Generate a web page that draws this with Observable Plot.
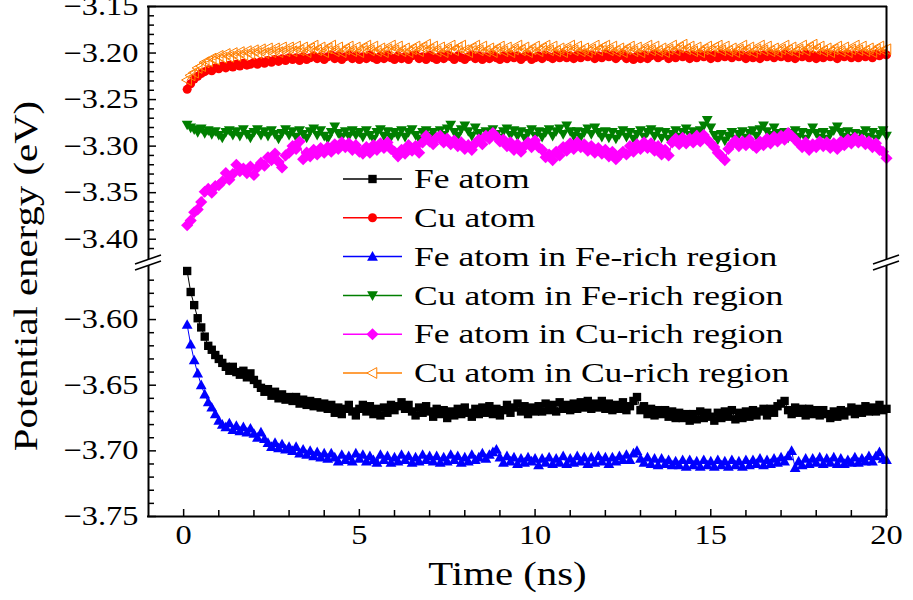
<!DOCTYPE html>
<html><head><meta charset="utf-8">
<script src="https://cdn.jsdelivr.net/npm/d3@7"></script>
<script src="https://cdn.jsdelivr.net/npm/@observablehq/plot@0.6"></script>
<style>
body{margin:0;background:#fff}
#chart{position:relative;width:913px;height:600px}
#chart svg{display:block;overflow:visible}
#overlay{position:absolute;left:0;top:0;pointer-events:none}
</style>
</head><body><div id="chart"></div>
<script>
// ---------- data (t = 0.1 ... 20.0 ns) ----------
const seriesNames = ["Fe atom","Cu atom","Fe atom in Fe-rich region","Cu atom in Fe-rich region","Fe atom in Cu-rich region","Cu atom in Cu-rich region"];

const feAtom = [
-3.563,-3.579,-3.589,-3.599,-3.606,-3.613,-3.620,-3.623,-3.627,-3.630,
-3.633,-3.636,-3.639,-3.636,-3.640,-3.642,-3.639,-3.644,-3.641,-3.646,
-3.649,-3.652,-3.655,-3.653,-3.658,-3.655,-3.660,-3.657,-3.661,-3.659,
-3.662,-3.659,-3.664,-3.661,-3.665,-3.662,-3.666,-3.663,-3.667,-3.664,
-3.668,-3.665,-3.671,-3.667,-3.672,-3.668,-3.665,-3.670,-3.673,-3.668,
-3.665,-3.670,-3.666,-3.672,-3.668,-3.673,-3.667,-3.671,-3.665,-3.669,
-3.666,-3.663,-3.668,-3.665,-3.670,-3.673,-3.667,-3.671,-3.666,-3.670,
-3.674,-3.668,-3.672,-3.669,-3.675,-3.670,-3.673,-3.668,-3.672,-3.667,
-3.671,-3.674,-3.668,-3.672,-3.667,-3.671,-3.666,-3.672,-3.668,-3.673,
-3.669,-3.665,-3.671,-3.667,-3.664,-3.670,-3.666,-3.672,-3.667,-3.670,
-3.666,-3.670,-3.664,-3.669,-3.665,-3.670,-3.663,-3.668,-3.665,-3.669,
-3.664,-3.668,-3.663,-3.667,-3.662,-3.668,-3.664,-3.667,-3.662,-3.668,
-3.664,-3.669,-3.665,-3.668,-3.663,-3.669,-3.666,-3.662,-3.659,-3.669,
-3.666,-3.672,-3.668,-3.673,-3.669,-3.672,-3.669,-3.674,-3.670,-3.675,
-3.671,-3.675,-3.672,-3.677,-3.672,-3.676,-3.670,-3.675,-3.671,-3.674,
-3.677,-3.671,-3.675,-3.670,-3.674,-3.669,-3.676,-3.671,-3.675,-3.670,
-3.674,-3.669,-3.673,-3.670,-3.668,-3.673,-3.668,-3.671,-3.666,-3.664,
-3.662,-3.669,-3.672,-3.667,-3.671,-3.668,-3.673,-3.668,-3.672,-3.669,
-3.673,-3.669,-3.672,-3.675,-3.670,-3.674,-3.669,-3.673,-3.670,-3.667,
-3.672,-3.668,-3.671,-3.666,-3.670,-3.667,-3.670,-3.665,-3.669,-3.668];

const cuAtom = [
-3.239,-3.233,-3.228,-3.225,-3.222,-3.220,-3.218,-3.219,-3.216,-3.217,
-3.214,-3.216,-3.213,-3.215,-3.212,-3.214,-3.211,-3.213,-3.212,-3.210,
-3.212,-3.209,-3.211,-3.208,-3.210,-3.207,-3.209,-3.206,-3.208,-3.205,
-3.207,-3.205,-3.208,-3.204,-3.207,-3.205,-3.203,-3.206,-3.204,-3.207,
-3.204,-3.202,-3.206,-3.203,-3.207,-3.204,-3.202,-3.206,-3.203,-3.207,
-3.204,-3.206,-3.202,-3.205,-3.207,-3.203,-3.206,-3.202,-3.205,-3.207,
-3.203,-3.206,-3.204,-3.207,-3.203,-3.202,-3.206,-3.204,-3.207,-3.202,
-3.205,-3.207,-3.203,-3.206,-3.202,-3.204,-3.207,-3.203,-3.205,-3.207,
-3.204,-3.202,-3.206,-3.203,-3.207,-3.204,-3.206,-3.202,-3.205,-3.207,
-3.203,-3.206,-3.202,-3.205,-3.203,-3.207,-3.204,-3.202,-3.207,-3.205,
-3.203,-3.206,-3.202,-3.204,-3.206,-3.202,-3.205,-3.201,-3.205,-3.203,
-3.206,-3.202,-3.205,-3.201,-3.204,-3.202,-3.206,-3.203,-3.205,-3.201,
-3.204,-3.202,-3.206,-3.203,-3.201,-3.206,-3.204,-3.207,-3.203,-3.206,
-3.202,-3.206,-3.203,-3.201,-3.205,-3.203,-3.201,-3.206,-3.202,-3.205,
-3.201,-3.204,-3.202,-3.206,-3.202,-3.205,-3.201,-3.204,-3.202,-3.206,
-3.202,-3.205,-3.201,-3.204,-3.202,-3.205,-3.201,-3.204,-3.202,-3.206,
-3.202,-3.205,-3.202,-3.206,-3.202,-3.204,-3.201,-3.205,-3.202,-3.204,
-3.201,-3.205,-3.202,-3.206,-3.202,-3.204,-3.201,-3.205,-3.202,-3.206,
-3.202,-3.205,-3.201,-3.204,-3.202,-3.206,-3.202,-3.204,-3.201,-3.205,
-3.202,-3.205,-3.201,-3.204,-3.202,-3.205,-3.201,-3.203,-3.201,-3.202];

const feInFeRich = [
-3.604,-3.619,-3.631,-3.641,-3.650,-3.657,-3.663,-3.667,-3.672,-3.677,
-3.680,-3.682,-3.679,-3.684,-3.681,-3.685,-3.682,-3.686,-3.683,-3.687,
-3.690,-3.686,-3.691,-3.694,-3.697,-3.694,-3.698,-3.695,-3.699,-3.697,
-3.700,-3.697,-3.702,-3.699,-3.703,-3.700,-3.704,-3.701,-3.705,-3.702,
-3.706,-3.702,-3.705,-3.708,-3.703,-3.707,-3.704,-3.708,-3.702,-3.706,
-3.703,-3.708,-3.704,-3.707,-3.709,-3.703,-3.707,-3.704,-3.709,-3.705,
-3.708,-3.703,-3.707,-3.704,-3.709,-3.705,-3.708,-3.703,-3.707,-3.704,
-3.708,-3.704,-3.709,-3.705,-3.708,-3.703,-3.707,-3.704,-3.709,-3.705,
-3.708,-3.703,-3.707,-3.705,-3.702,-3.706,-3.703,-3.701,-3.699,-3.705,
-3.709,-3.704,-3.708,-3.705,-3.710,-3.706,-3.709,-3.705,-3.708,-3.706,
-3.711,-3.706,-3.709,-3.705,-3.710,-3.706,-3.709,-3.704,-3.710,-3.706,
-3.709,-3.704,-3.708,-3.705,-3.710,-3.705,-3.709,-3.704,-3.708,-3.705,
-3.710,-3.705,-3.708,-3.704,-3.707,-3.703,-3.707,-3.702,-3.700,-3.706,
-3.709,-3.705,-3.710,-3.706,-3.711,-3.706,-3.710,-3.707,-3.711,-3.708,
-3.711,-3.707,-3.712,-3.707,-3.711,-3.708,-3.712,-3.707,-3.711,-3.708,
-3.712,-3.707,-3.711,-3.708,-3.712,-3.707,-3.711,-3.708,-3.712,-3.707,
-3.711,-3.707,-3.710,-3.706,-3.711,-3.707,-3.710,-3.706,-3.709,-3.705,
-3.708,-3.704,-3.700,-3.713,-3.708,-3.711,-3.706,-3.710,-3.706,-3.709,
-3.705,-3.710,-3.706,-3.709,-3.705,-3.710,-3.706,-3.710,-3.707,-3.709,
-3.705,-3.709,-3.706,-3.708,-3.704,-3.708,-3.704,-3.701,-3.706,-3.707];

const cuInFeRich = [
-3.277,-3.280,-3.282,-3.285,-3.281,-3.286,-3.283,-3.287,-3.284,-3.288,
-3.291,-3.285,-3.283,-3.288,-3.284,-3.289,-3.282,-3.287,-3.291,-3.285,
-3.282,-3.288,-3.284,-3.289,-3.283,-3.287,-3.292,-3.286,-3.282,-3.288,
-3.284,-3.290,-3.283,-3.287,-3.291,-3.284,-3.281,-3.288,-3.283,-3.289,
-3.292,-3.285,-3.279,-3.286,-3.290,-3.284,-3.289,-3.283,-3.288,-3.285,
-3.290,-3.283,-3.288,-3.292,-3.285,-3.282,-3.289,-3.284,-3.290,-3.285,
-3.289,-3.283,-3.290,-3.285,-3.282,-3.288,-3.292,-3.285,-3.283,-3.289,
-3.285,-3.290,-3.283,-3.288,-3.281,-3.277,-3.285,-3.289,-3.282,-3.278,
-3.284,-3.289,-3.280,-3.286,-3.291,-3.284,-3.289,-3.282,-3.287,-3.291,
-3.284,-3.281,-3.288,-3.283,-3.289,-3.284,-3.291,-3.286,-3.282,-3.289,
-3.284,-3.290,-3.285,-3.282,-3.289,-3.284,-3.281,-3.287,-3.278,-3.284,
-3.289,-3.284,-3.290,-3.285,-3.281,-3.287,-3.280,-3.285,-3.290,-3.284,
-3.291,-3.285,-3.292,-3.287,-3.283,-3.290,-3.285,-3.292,-3.287,-3.283,
-3.290,-3.285,-3.282,-3.289,-3.284,-3.291,-3.285,-3.292,-3.287,-3.283,
-3.290,-3.285,-3.281,-3.288,-3.284,-3.290,-3.283,-3.278,-3.272,-3.280,
-3.288,-3.293,-3.287,-3.294,-3.289,-3.285,-3.292,-3.287,-3.284,-3.291,
-3.286,-3.283,-3.289,-3.282,-3.278,-3.284,-3.288,-3.280,-3.286,-3.291,
-3.285,-3.291,-3.286,-3.283,-3.290,-3.285,-3.292,-3.286,-3.280,-3.286,
-3.291,-3.285,-3.292,-3.287,-3.283,-3.279,-3.285,-3.290,-3.284,-3.291,
-3.286,-3.292,-3.287,-3.283,-3.290,-3.285,-3.292,-3.287,-3.283,-3.289];

const feInCuRich = [
-3.385,-3.380,-3.371,-3.368,-3.360,-3.349,-3.346,-3.350,-3.343,-3.342,
-3.338,-3.329,-3.336,-3.330,-3.320,-3.327,-3.324,-3.329,-3.322,-3.331,
-3.323,-3.318,-3.321,-3.312,-3.315,-3.308,-3.317,-3.323,-3.310,-3.307,
-3.300,-3.303,-3.295,-3.314,-3.307,-3.311,-3.304,-3.309,-3.302,-3.307,
-3.301,-3.306,-3.298,-3.303,-3.296,-3.301,-3.297,-3.304,-3.299,-3.306,
-3.308,-3.301,-3.307,-3.299,-3.304,-3.297,-3.302,-3.296,-3.303,-3.306,
-3.311,-3.304,-3.308,-3.299,-3.305,-3.300,-3.307,-3.296,-3.289,-3.295,
-3.298,-3.291,-3.289,-3.296,-3.292,-3.298,-3.294,-3.300,-3.296,-3.303,
-3.299,-3.304,-3.297,-3.293,-3.298,-3.289,-3.292,-3.286,-3.290,-3.295,
-3.293,-3.300,-3.296,-3.304,-3.298,-3.306,-3.300,-3.296,-3.301,-3.294,
-3.301,-3.304,-3.312,-3.309,-3.315,-3.306,-3.310,-3.301,-3.305,-3.297,
-3.303,-3.296,-3.301,-3.298,-3.305,-3.300,-3.307,-3.302,-3.308,-3.304,
-3.311,-3.306,-3.314,-3.310,-3.306,-3.309,-3.300,-3.306,-3.298,-3.303,
-3.296,-3.302,-3.297,-3.305,-3.300,-3.309,-3.304,-3.310,-3.296,-3.292,
-3.298,-3.291,-3.297,-3.292,-3.296,-3.289,-3.295,-3.288,-3.293,-3.297,
-3.301,-3.307,-3.311,-3.315,-3.303,-3.298,-3.294,-3.300,-3.295,-3.299,
-3.293,-3.299,-3.302,-3.295,-3.299,-3.292,-3.297,-3.290,-3.295,-3.289,
-3.293,-3.286,-3.289,-3.293,-3.297,-3.301,-3.296,-3.304,-3.298,-3.301,
-3.295,-3.300,-3.296,-3.302,-3.297,-3.303,-3.295,-3.299,-3.293,-3.297,
-3.291,-3.296,-3.293,-3.298,-3.295,-3.301,-3.297,-3.304,-3.306,-3.313];

const cuInCuRich = [
-3.229,-3.224,-3.221,-3.216,-3.214,-3.210,-3.209,-3.206,-3.207,-3.203,
-3.205,-3.201,-3.204,-3.200,-3.203,-3.199,-3.202,-3.198,-3.201,-3.197,
-3.200,-3.196,-3.200,-3.195,-3.199,-3.195,-3.199,-3.194,-3.198,-3.194,
-3.198,-3.193,-3.197,-3.194,-3.199,-3.195,-3.192,-3.197,-3.194,-3.199,
-3.195,-3.192,-3.198,-3.194,-3.199,-3.196,-3.193,-3.198,-3.194,-3.199,
-3.195,-3.192,-3.197,-3.193,-3.198,-3.195,-3.199,-3.196,-3.192,-3.197,
-3.193,-3.198,-3.195,-3.199,-3.196,-3.193,-3.198,-3.194,-3.191,-3.196,
-3.193,-3.198,-3.194,-3.199,-3.196,-3.192,-3.197,-3.194,-3.192,-3.197,
-3.199,-3.195,-3.192,-3.197,-3.193,-3.198,-3.195,-3.199,-3.196,-3.193,
-3.198,-3.194,-3.199,-3.196,-3.192,-3.197,-3.194,-3.199,-3.196,-3.193,
-3.198,-3.195,-3.192,-3.197,-3.193,-3.198,-3.195,-3.199,-3.196,-3.192,
-3.197,-3.193,-3.198,-3.195,-3.199,-3.196,-3.192,-3.197,-3.194,-3.192,
-3.197,-3.193,-3.198,-3.195,-3.199,-3.196,-3.193,-3.198,-3.194,-3.199,
-3.196,-3.192,-3.197,-3.193,-3.198,-3.195,-3.199,-3.196,-3.192,-3.197,
-3.194,-3.191,-3.196,-3.193,-3.198,-3.194,-3.199,-3.196,-3.193,-3.198,
-3.194,-3.192,-3.197,-3.193,-3.198,-3.195,-3.199,-3.196,-3.192,-3.197,
-3.194,-3.199,-3.196,-3.192,-3.197,-3.193,-3.198,-3.195,-3.199,-3.196,
-3.192,-3.197,-3.194,-3.199,-3.196,-3.192,-3.197,-3.194,-3.191,-3.196,
-3.193,-3.198,-3.195,-3.199,-3.196,-3.193,-3.198,-3.194,-3.199,-3.196,
-3.192,-3.197,-3.193,-3.198,-3.195,-3.199,-3.196,-3.193,-3.197,-3.196];

// sampling times (ns): one sample every 0.1 ns
const timeNs = feAtom.map((_, i) => (i + 1) / 10);

// axis tick labels
const xTickLabels = [0, 5, 10, 15, 20];
const yTickLabelsUpper = [-3.40, -3.35, -3.30, -3.25, -3.20, -3.15];
const yTickLabelsLower = [-3.75, -3.70, -3.65, -3.60];
// broken y axis: upper panel spans [-3.4261, -3.15], lower panel [-3.75, -3.5573]
const yDomainUpper = [-3.4261, -3.15];
const yDomainLower = [-3.75, -3.5573];
const xDomain = [-1, 20];

// ---------- styling ----------
const series = [feAtom, cuAtom, feInFeRich, cuInFeRich, feInCuRich, cuInCuRich];
const inUpper = [false, true, false, true, true, true];
const colors = ["#000000", "#ff0000", "#0000ff", "#007f00", "#ff00ff", "#ff7f00"];
const openMarker = [false, false, false, false, false, true];
const R = 4.5;
const poly = pts => ({draw(ctx, size) {
  const r = Math.sqrt(size / Math.PI);
  pts.forEach(([a, b], i) => i ? ctx.lineTo(a * r, b * r) : ctx.moveTo(a * r, b * r));
  ctx.closePath();
}});
const symbols = [
  poly([[-0.93,-0.93],[0.93,-0.93],[0.93,0.93],[-0.93,0.93]]),
  d3.symbolCircle,
  poly([[0,-1.25],[1.2,0.9],[-1.2,0.9]]),
  poly([[0,1.25],[1.2,-0.9],[-1.2,-0.9]]),
  poly([[0,-1.35],[1.35,0],[0,1.35],[-1.35,0]]),
  poly([[-1.25,0],[0.95,-1.2],[0.95,1.2]])
];

const W = 913, H = 600, mL = 148, mR = 27;
const hTop = 263, mTopTop = 6;          // upper panel: page y 0..263
const hLow = H - hTop, mBotLow = 84;    // lower panel: page y 263..600
const frameW = W - mL - mR;
const FONT = "'Liberation Serif', 'Times New Roman', serif";
const style = {fontFamily: FONT, fontSize: "27px", color: "black", background: "transparent", overflow: "visible"};
const fmt = d => "\u2212" + Math.abs(d).toFixed(2);
const minorOf = (lo, hi, majors) => d3.range(Math.round(lo * 100), Math.round(hi * 100) + 1)
  .map(d => d / 100).filter(d => !majors.some(t => Math.abs(t - d) < 1e-6));
const yMinorUpper = minorOf(-3.41, -3.16, yTickLabelsUpper);
const yMinorLower = minorOf(-3.74, -3.57, yTickLabelsLower);
const xMinor = d3.range(0, 21).filter(d => d % 5 !== 0);

function seriesMarks(upper) {
  const out = [];
  series.forEach((vals, k) => {
    if (inUpper[k] !== upper) return;
    const rows = vals.map((v, i) => ({t: timeNs[i], v}));
    out.push(Plot.line(rows, {x: "t", y: "v", stroke: colors[k], strokeWidth: 1}));
    out.push(Plot.dot(rows, {x: "t", y: "v", r: R, symbol: symbols[k],
      fill: openMarker[k] ? "none" : colors[k], stroke: openMarker[k] ? colors[k] : "none", strokeWidth: 1}));
  });
  return out;
}

const upperPlot = Plot.plot({
  width: W, height: hTop, marginLeft: mL, marginRight: mR, marginTop: mTopTop, marginBottom: 0, style,
  x: {domain: xDomain, axis: null},
  y: {domain: yDomainUpper},
  marks: [
    ...seriesMarks(true),
    Plot.tickY(yTickLabelsUpper, {y: d => d, insetRight: frameW - 8, strokeWidth: 1.5}),
    Plot.tickY(yMinorUpper, {y: d => d, insetRight: frameW - 6, strokeWidth: 1.5}),
    Plot.axisY(yTickLabelsUpper, {tickSize: 0, tickPadding: 10, tickFormat: fmt, label: null}),
    Plot.ruleX(xDomain, {strokeWidth: 2}),
    Plot.ruleY([yDomainUpper[1]], {strokeWidth: 2, strokeLinecap: "square"})
  ]
});

const frameHLow = hLow - mBotLow;
const lowerPlot = Plot.plot({
  width: W, height: hLow, marginLeft: mL, marginRight: mR, marginTop: 0, marginBottom: mBotLow, style,
  x: {domain: xDomain},
  y: {domain: yDomainLower},
  marks: [
    ...seriesMarks(false),
    Plot.tickY(yTickLabelsLower, {y: d => d, insetRight: frameW - 8, strokeWidth: 1.5}),
    Plot.tickY(yMinorLower, {y: d => d, insetRight: frameW - 6, strokeWidth: 1.5}),
    Plot.tickX(xTickLabels, {x: d => d, insetTop: frameHLow - 7, strokeWidth: 1.5}),
    Plot.tickX(xMinor, {x: d => d, insetTop: frameHLow - 6, strokeWidth: 1.5}),
    Plot.axisY(yTickLabelsLower, {tickSize: 0, tickPadding: 10, tickFormat: fmt, label: null}),
    Plot.axisX(xTickLabels, {tickSize: 0, tickPadding: 8, label: null}),
    Plot.ruleX(xDomain, {strokeWidth: 2}),
    Plot.ruleY([yDomainLower[0]], {strokeWidth: 2, strokeLinecap: "square"}),
    Plot.text(["Time (ns)"], {text: d => d, frameAnchor: "bottom", textAnchor: "middle", lineAnchor: "middle", dy: 58, dx: -10, fontSize: 34}),
    Plot.text(["Potential energy (eV)"], {text: d => d, frameAnchor: "left", textAnchor: "middle", lineAnchor: "middle", rotate: -90, dx: -122, dy: -114, fontSize: 34})
  ]
});

const chart = document.getElementById("chart");
chart.append(upperPlot, lowerPlot);

// overlay: axis-break marks and legend
const overlay = d3.select(chart).append("svg").attr("id", "overlay").attr("width", W).attr("height", H);
const yb = upperPlot.scale("y").apply(yDomainUpper[0]);
const xr = upperPlot.scale("x").range;
for (const cx of xr) {
  overlay.append("polygon")
    .attr("points", [[cx-13, yb+7],[cx+13, yb-2],[cx+13, yb-8],[cx-13, yb+1]].map(p => p.join(",")).join(" "))
    .attr("fill", "white");
  overlay.append("line").attr("x1", cx-13).attr("y1", yb+7).attr("x2", cx+13).attr("y2", yb-2).attr("stroke", "black").attr("stroke-width", 1.5);
  overlay.append("line").attr("x1", cx-13).attr("y1", yb+1).attr("x2", cx+13).attr("y2", yb-8).attr("stroke", "black").attr("stroke-width", 1.5);
}
const lg = overlay.append("g").attr("font-family", FONT).attr("font-size", 28).attr("text-anchor", "start");
seriesNames.forEach((name, k) => {
  const y = 179 + k * 38.8;
  const g = lg.append("g").attr("transform", `translate(343,${y})`);
  g.append("line").attr("x1", 0).attr("x2", 59).attr("stroke", colors[k]).attr("stroke-width", 1.5);
  g.append("path").attr("transform", "translate(29.5,0)")
    .attr("d", d3.symbol(symbols[k], Math.PI * R * R)())
    .attr("fill", openMarker[k] ? "white" : colors[k])
    .attr("stroke", openMarker[k] ? colors[k] : "none");
  g.append("text").attr("class", "lgtext").attr("transform", "translate(71,0)").attr("dy", "0.33em").text(name);
});

// the reference face (Computer Modern) is wider than Liberation Serif: widen glyphs horizontally
function stretch(el, k) {
  const t = el.getAttribute("transform");
  if (t) el.setAttribute("transform", t + ` scale(${k},1)`);
  else {
    const x = +el.getAttribute("x") || 0, y = +el.getAttribute("y") || 0;
    el.removeAttribute("x"); el.removeAttribute("y");
    el.setAttribute("transform", `translate(${x},${y}) scale(${k},1)`);
  }
}
d3.select(chart).selectAll("text").each(function () {
  stretch(this, this.classList.contains("lgtext") ? 1.27 : 1.2);
});
</script>
</body></html>
